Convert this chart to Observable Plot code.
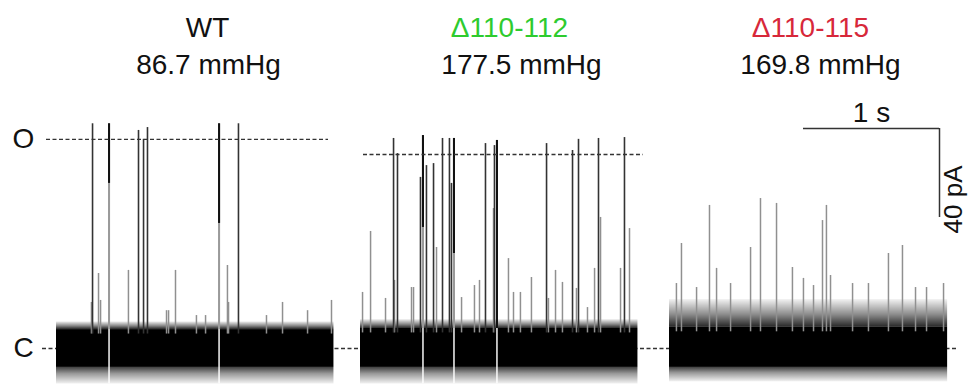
<!DOCTYPE html>
<html><head><meta charset="utf-8">
<script src="https://cdn.jsdelivr.net/npm/d3@7"></script>
<script src="https://cdn.jsdelivr.net/npm/@observablehq/plot@0.6"></script>
<style>
body{margin:0;background:#fff;}
#chart svg{display:block;}
</style>
</head><body><div id="chart"></div>
<script>
// ---------- DATA ----------
const genotypes = ["WT", "\u0394110-112", "\u0394110-115"];
const pressures = ["86.7 mmHg", "177.5 mmHg", "169.8 mmHg"];
const openLevels = [94, 87.2];            // pA, "O" level for WT and Δ110-112
const traceDurations = [2.04, 2.04, 2.045]; // s
const noiseUpper = [8.5, 9.0, 9.5];       // pA, dense baseline noise
const noiseLower = [-8.5, -8.5, -8.5];
const fringeUpper = [12, 13, 22];         // pA, sparse noise fringe
const fringeLower = [-16, -16, -15];
// brief openings: [time (s), amplitude (pA)]
const wtBrief = [[0.257,20.7],[0.265,101],[0.309,33.7],[0.324,21.6],[0.529,35.1],[0.603,98],[0.640,94],[0.669,99.3],[0.809,17],[0.824,17],[0.875,35.1],[1.029,14.8],[1.096,14.8],[1.257,37.3],[1.265,20.7],[1.338,101],[1.544,14.8],[1.662,20.7],[1.846,17],[2.022,21.6]];
const d112Brief = [[0.015,25.2],[0.074,52.6],[0.184,22.5],[0.243,94.4],[0.250,30.6],[0.272,87.6],[0.375,27.4],[0.390,27.4],[0.441,76.9],[0.485,82.2],[0.537,83.1],[0.559,45.4],[0.603,94.4],[0.654,94.4],[0.669,74.2],[0.743,22.9],[0.838,28.3],[0.875,30.6],[0.919,92.1],[0.978,62.9],[0.985,91.2],[1.088,40.4],[1.125,25.2],[1.176,25.2],[1.257,31.9],[1.368,92.1],[1.382,22.5],[1.434,35.1],[1.485,29.7],[1.559,89.0],[1.588,27.0],[1.603,94.0],[1.669,18.4],[1.721,36.0],[1.750,94.4],[1.765,58.9],[1.912,36.0],[1.941,94.8],[1.978,53.9]];
const d115Brief = [[0.051,29.2],[0.088,47.2],[0.199,27.4],[0.294,64.3],[0.346,36],[0.449,29.2],[0.596,45.4],[0.669,67.4],[0.787,65.2],[0.904,36.4],[0.985,31.5],[1.059,28.3],[1.125,57.5],[1.154,64.3],[1.184,32.8],[1.346,29.2],[1.463,29.2],[1.610,42.7],[1.713,46.3],[1.809,27.4],[1.890,27.4],[2.015,29.2]];
// longer openings: [time (s), amplitude (pA), dwell (s), lowest level of the dark part (pA)]
const wtLong = [[0.390,101,0.015,74.2],[1.199,101,0.015,56.2]];
const d112Long = [[0.463,95.7,0.015,54.4],[0.691,94.4,0.015,42.7],[1.007,93.5,0.015,9]];
const d115Long = [];
const scaleBarTime = 1;     // s
const scaleBarCurrent = 40; // pA
const scaleBarLabels = ["1 s", "40 pA"];
const stateLabels = ["O", "C"];

// ---------- LAYOUT ----------
const W = 969, H = 384;
const pxPerSec = 136, pxPerPA = 2.225, baselinePx = 348;
const sx = px => px / pxPerSec;                 // px -> s
const sy = px => (baselinePx - px) / pxPerPA;   // px -> pA
const panelStart = [56, 360, 669].map(sx);
const oLineFrom = [46, 363].map(sx), oLineTo = [328, 643].map(sx);
const titleX1 = [207, 509, 810].map(sx), titleX2 = [208, 521, 820].map(sx);
const titleColors = ["#111", "#2ecb2e", "#d7283a"];
const font = "Arial, 'Liberation Sans', Helvetica, sans-serif";

const panels = genotypes.map((g, i) => ({
  i, g, p: pressures[i],
  x1: panelStart[i], x2: panelStart[i] + traceDurations[i],
  nu: noiseUpper[i], nl: noiseLower[i], fu: fringeUpper[i], fl: fringeLower[i]
}));

const briefs = [wtBrief, d112Brief, d115Brief];
const longs = [wtLong, d112Long, d115Long];
const brief = [];
briefs.forEach((arr, i) => arr.forEach(([t, a]) => brief.push({
  x: panelStart[i] + t, y1: noiseUpper[i] - 2, y2: a,
  full: i < 2 && a >= 0.8 * openLevels[i]
})));
const long = [];
longs.forEach((arr, i) => arr.forEach(([t, a, d, lo]) => long.push({
  x1: panelStart[i] + t - d / 2, x2: panelStart[i] + t + d / 2,
  top: a, low: lo, nu: noiseUpper[i], fu: fringeUpper[i], fl: fringeLower[i]
})));
const oLines = openLevels.map((lvl, i) => ({x1: oLineFrom[i], x2: oLineTo[i], y: lvl}));

const sbX0 = sx(803), sbY0 = sy(128);

// gradient defs for the fuzzy noise fringes
const defs = () => {
  const ns = "http://www.w3.org/2000/svg";
  const d = document.createElementNS(ns, "defs");
  d.innerHTML = `
    <linearGradient id="fadeUp" x1="0" y1="1" x2="0" y2="0">
      <stop offset="0" stop-color="#000" stop-opacity="0.85"/>
      <stop offset="0.45" stop-color="#000" stop-opacity="0.45"/>
      <stop offset="1" stop-color="#000" stop-opacity="0.05"/>
    </linearGradient>
    <linearGradient id="fadeDown" x1="0" y1="0" x2="0" y2="1">
      <stop offset="0" stop-color="#000" stop-opacity="0.75"/>
      <stop offset="0.4" stop-color="#000" stop-opacity="0.4"/>
      <stop offset="1" stop-color="#000" stop-opacity="0.05"/>
    </linearGradient>`;
  return d;
};

const chart = Plot.plot({
  width: W, height: H,
  marginTop: 0, marginBottom: 0, marginLeft: 0, marginRight: 0,
  x: {domain: [0, W / pxPerSec], axis: null},
  y: {domain: [sy(H), sy(0)], axis: null},
  style: {fontFamily: font, background: "#fff"},
  marks: [
    defs,
    // closed-level dashed line
    Plot.ruleY([0], {x1: sx(42), x2: sx(956), stroke: "#333", strokeWidth: 1.3, strokeDasharray: "4,2.5"}),
    // noise bands
    Plot.rect(panels, {x1: "x1", x2: "x2", y1: "nu", y2: "fu", fill: "url(#fadeUp)"}),
    Plot.rect(panels, {x1: "x1", x2: "x2", y1: "fl", y2: "nl", fill: "url(#fadeDown)"}),
    Plot.rect(panels, {x1: "x1", x2: "x2", y1: "nl", y2: "nu", fill: "#000"}),
    // gaps in the noise during long openings
    Plot.rect(long, {x1: "x1", x2: "x2", y1: "fl", y2: "fu", fill: "#fff", inset: 0.3}),
    // brief openings
    Plot.ruleX(brief.filter(d => !d.full), {x: "x", y1: "y1", y2: "y2", stroke: "#909090", strokeWidth: 1.5}),
    Plot.ruleX(brief.filter(d => d.full), {x: "x", y1: "y1", y2: "y2", stroke: "#333", strokeWidth: 1.6}),
    // long openings
    Plot.rect(long, {x1: "x1", x2: "x2", y1: "nu", y2: "top", fill: "#9a9a9a"}),
    Plot.rect(long, {x1: "x1", x2: "x2", y1: "low", y2: "top", fill: "#111"}),
    // open-level dashed lines
    Plot.ruleY(oLines, {x1: "x1", x2: "x2", y: "y", stroke: "#333", strokeWidth: 1.3, strokeDasharray: "4,2.5"}),
    // state labels
    Plot.text([{s: stateLabels[0], y: openLevels[0]}, {s: stateLabels[1], y: 0}], {
      x: sx(23), y: "y", text: "s", fontSize: 28, fill: "#111", textAnchor: "middle", lineAnchor: "middle"
    }),
    // titles
    Plot.text(panels, {x: d => titleX1[d.i], y: sy(28), text: "g", fontSize: 28,
      fill: d => titleColors[d.i], textAnchor: "middle", lineAnchor: "middle"}),
    Plot.text(panels, {x: d => titleX2[d.i], y: sy(65), text: "p", fontSize: 28,
      fill: "#111", textAnchor: "middle", lineAnchor: "middle"}),
    // scale bar
    Plot.ruleY([sbY0], {x1: sbX0, x2: sbX0 + scaleBarTime, stroke: "#333", strokeWidth: 1.5}),
    Plot.ruleX([sbX0 + scaleBarTime], {y1: sbY0, y2: sbY0 - scaleBarCurrent, stroke: "#333", strokeWidth: 1.5}),
    Plot.text([scaleBarLabels[0]], {x: sbX0 + scaleBarTime / 2, y: sy(113), text: d => d, fontSize: 28,
      fill: "#111", textAnchor: "middle", lineAnchor: "middle"}),
    Plot.text([scaleBarLabels[1]], {x: sbX0 + scaleBarTime + sx(14), y: sy(199), text: d => d,
      fontSize: 26, fill: "#111", rotate: -90, textAnchor: "middle", lineAnchor: "middle"})
  ]
});
document.getElementById("chart").append(chart);
</script>
</body></html>
